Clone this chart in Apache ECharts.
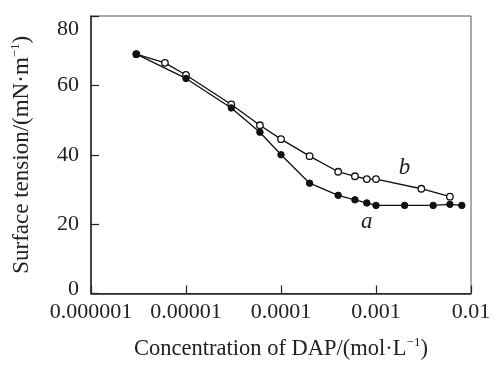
<!DOCTYPE html>
<html>
<head>
<meta charset="utf-8">
<script src="https://cdn.jsdelivr.net/npm/echarts@6/dist/echarts.min.js"></script>
<style>
html,body{margin:0;padding:0;background:#fff;}
#chart{width:503px;height:372px;}
</style>
</head>
<body>
<div id="chart"></div>
<script>
// Concentration of DAP (mol/L)
const concA = [3e-6, 1e-5, 3e-5, 6e-5, 1e-4, 2e-4, 4e-4, 6e-4, 8e-4, 1e-3, 2e-3, 4e-3, 6e-3, 8e-3];
const tensionA = [69, 62, 53.5, 46.5, 40, 31.8, 28.3, 27, 26.1, 25.4, 25.4, 25.4, 25.7, 25.4];
const concB = [3e-6, 6e-6, 1e-5, 3e-5, 6e-5, 1e-4, 2e-4, 4e-4, 6e-4, 8e-4, 1e-3, 3e-3, 6e-3];
const tensionB = [69, 66.5, 63, 54.5, 48.5, 44.5, 39.6, 35.1, 33.8, 33, 33, 30.2, 27.9];
const xTickLabels = {'-6':'0.000001','-5':'0.00001','-4':'0.0001','-3':'0.001','-2':'0.01'};
const yTicks = [0, 20, 40, 60, 80];
const curveLabels = [{name:'a', coord:[8e-4, 20.6]}, {name:'b', coord:[2e-3, 36.2]}];

const serif = '"Liberation Serif", "DejaVu Serif", serif';
const chart = echarts.init(document.getElementById('chart'), null, {renderer:'canvas'});

function pairs(xs, ys){ return xs.map((x,i)=>[x, ys[i]]); }

chart.setOption({
  animation: false,
  backgroundColor: '#fff',
  grid: {left: 91, right: 32, top: 16, bottom: 78.5, show: true, borderColor: '#555', borderWidth: 1},
  xAxis: {
    type: 'log', logBase: 10, min: 1e-6, max: 1e-2,
    name: '{n|Concentration of DAP/(mol·L}{s|−1}{n|)}',
    nameLocation: 'middle', nameGap: 43,
    nameTextStyle: {
      rich: {
        n: {fontFamily: serif, fontSize: 22.5, color: '#222', lineHeight: 26},
        s: {fontFamily: serif, fontSize: 13, color: '#222', lineHeight: 26, verticalAlign: 'top', padding:[0,0,10,0]}
      }
    },
    axisLine: {show: true, lineStyle: {color: '#222', width: 1.5}},
    axisTick: {show: true, inside: true, length: 8, lineStyle: {color: '#222', width: 1.2}},
    minorTick: {show: false},
    splitLine: {show: false},
    axisLabel: {
      fontFamily: serif, fontSize: 22, color: '#222', margin: 8,
      formatter: function(v){ const k = Math.round(Math.log10(v)); return xTickLabels[String(k)] || ''; }
    }
  },
  yAxis: {
    type: 'value', min: 0, max: 80, interval: 20,
    name: '{n|Surface tension/(mN·m}{s|−1}{n|)}',
    nameLocation: 'middle', nameGap: 56, nameRotate: 90,
    nameTextStyle: {
      rich: {
        n: {fontFamily: serif, fontSize: 23, color: '#222', lineHeight: 26},
        s: {fontFamily: serif, fontSize: 13, color: '#222', lineHeight: 26, verticalAlign: 'top', padding:[0,0,10,0]}
      }
    },
    axisLine: {show: true, lineStyle: {color: '#222', width: 1.5}},
    axisTick: {show: true, inside: true, length: 8, lineStyle: {color: '#222', width: 1.2}},
    splitLine: {show: false},
    axisLabel: {
      fontFamily: serif, fontSize: 22, color: '#222', margin: 12,
      formatter: function(v){
        if (v === yTicks[yTicks.length-1]) return '{top|' + v + '}';
        if (v === yTicks[0]) return '{bot|' + v + '}';
        return String(v);
      },
      rich: {
        top: {fontFamily: serif, fontSize: 22, color: '#222', padding: [26,0,0,0]},
        bot: {fontFamily: serif, fontSize: 22, color: '#222', padding: [0,0,8,0]}
      }
    }
  },
  series: [
    {
      name: 'b', type: 'line', data: pairs(concB, tensionB),
      symbol: 'circle', symbolSize: 6.5, showSymbol: true,
      lineStyle: {color: '#111', width: 1.3},
      itemStyle: {color: '#fff', borderColor: '#111', borderWidth: 1.3},
      z: 2
    },
    {
      name: 'a', type: 'line', data: pairs(concA, tensionA),
      symbol: 'circle', symbolSize: 6.5, showSymbol: true,
      lineStyle: {color: '#111', width: 1.3},
      itemStyle: {color: '#111', borderColor: '#111', borderWidth: 1},
      z: 3,
      markPoint: {
        symbol: 'circle', symbolSize: 1, itemStyle: {color: 'rgba(0,0,0,0)'},
        label: {show: true, position: 'inside', formatter: '{b}', fontFamily: serif, fontStyle: 'italic', fontSize: 23, color: '#222'},
        data: curveLabels.map(c => ({name: c.name, coord: c.coord}))
      }
    }
  ]
});
</script>
</body>
</html>
